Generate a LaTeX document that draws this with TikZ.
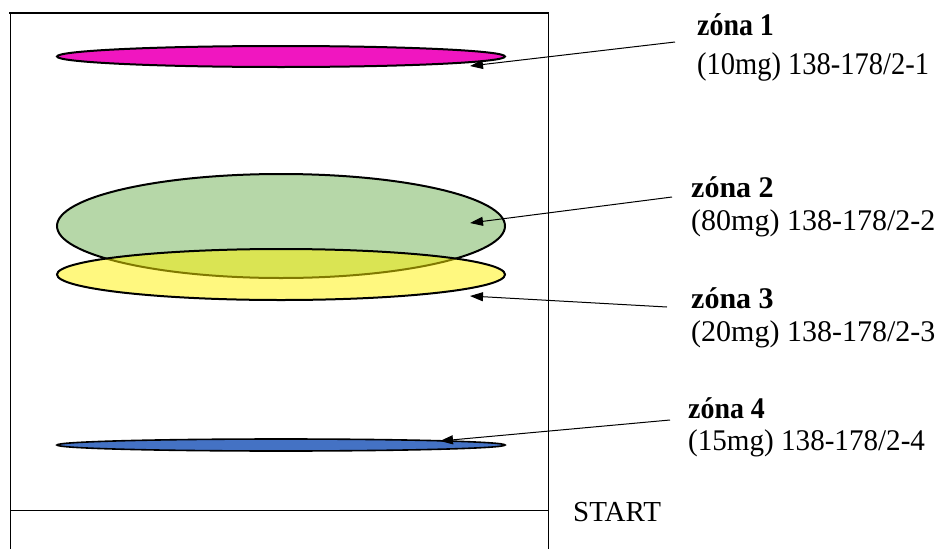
\documentclass[tikz,border=0pt]{standalone}
\usepackage{fontspec}
\setmainfont{Liberation Serif}
\usetikzlibrary{shapes.geometric,arrows.meta}
\definecolor{zmag}{RGB}{240,22,192}
\definecolor{zgreen}{RGB}{182,215,168}
\definecolor{zblue}{RGB}{68,114,196}
\tikzset{
  spot/.style={ellipse, draw=black, line width=2pt, minimum width=448pt, inner sep=0pt},
  ptr/.style={line width=1pt, -{Triangle[length=13pt,width=9pt]}},
  ztitle/.style={anchor=base west, inner sep=0pt, font=\fontsize{30}{36}\selectfont\bfseries},
  zinfo/.style={anchor=base west, inner sep=0pt, font=\fontsize{30}{36}\selectfont},
}
\begin{document}
\begin{tikzpicture}[x=1pt,y=-1pt]
\useasboundingbox (0,0) rectangle (941,549);
% plate
\draw[line width=1pt] (10,13) -- (10,549);
\draw[line width=1pt] (548,13) -- (548,549);
\draw[line width=2pt] (9,13) -- (549,13);
\draw[line width=1pt] (10,510) -- (548,510);
\node[anchor=base west, inner sep=0pt, font=\fontsize{29}{34}\selectfont] (start) at (573,521) {START};
% spots
\node[spot, fill=zmag, minimum height=21pt] (s1) at (281,56.5) {};
\node[spot, fill=zgreen, minimum height=104pt] (s2) at (281,226) {};
\node[spot, fill=yellow, fill opacity=0.5, minimum height=51pt] (s3) at (281,274.5) {};
\node[spot, fill=zblue, minimum height=12pt, line width=1.6pt] (s4) at (281,445) {};
% labels
\node[ztitle, xscale=0.93, yscale=1.05] (l1a) at (697,35) {zóna 1};
\node[zinfo, xscale=0.95, yscale=1.05] (l1b) at (697,74) {(10mg) 138-178/2-1};
\node[ztitle] (l2a) at (691,197) {zóna 2};
\node[zinfo] (l2b) at (691,230) {(80mg) 138-178/2-2};
\node[ztitle] (l3a) at (691,308) {zóna 3};
\node[zinfo] (l3b) at (691,341) {(20mg) 138-178/2-3};
\node[ztitle, xscale=0.93] (l4a) at (688,418) {zóna 4};
\node[zinfo, xscale=0.97] (l4b) at (688,450) {(15mg) 138-178/2-4};
% arrows
\coordinate (a1) at (675,42); \coordinate (t1) at (470,66);
\coordinate (a2) at (672,197); \coordinate (t2) at (470,223);
\coordinate (a3) at (667,307); \coordinate (t3) at (470,296);
\coordinate (a4) at (670,420); \coordinate (t4) at (440,441);
\draw[ptr] (a1) -- (t1);
\draw[ptr] (a2) -- (t2);
\draw[ptr] (a3) -- (t3);
\draw[ptr] (a4) -- (t4);
\end{tikzpicture}
\end{document}
